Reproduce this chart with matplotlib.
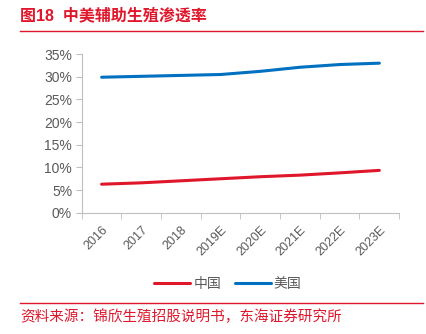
import numpy as np
import matplotlib.pyplot as plt
from matplotlib.ticker import PercentFormatter, FixedLocator, NullFormatter

plt.rcParams['font.family'] = ['Liberation Sans', 'Noto Sans CJK SC', 'DejaVu Sans']

years = ["2016", "2017", "2018", "2019E", "2020E", "2021E", "2022E", "2023E"]
china = [6.3, 6.6, 7.05, 7.5, 7.95, 8.3, 8.8, 9.35]
usa = [29.9, 30.1, 30.3, 30.5, 31.2, 32.1, 32.7, 33.0]

RED = "#E0162B"
BLUE = "#0070C0"
GRAY = "#595959"
SPINE = "#BFBFBF"

fig = plt.figure(figsize=(4.26, 3.34), dpi=100)
ax = fig.add_axes([0.192, 0.363, 0.745, 0.475])

x = np.arange(len(years))
ax.plot(x, china, color=RED, lw=2.2, label="中国", solid_capstyle="round")
ax.plot(x, usa, color=BLUE, lw=2.2, label="美国", solid_capstyle="round")

ax.set_xlim(-0.5, len(years) - 0.5)
ax.set_ylim(0, 35)
ax.set_yticks(np.arange(0, 36, 5))
ax.yaxis.set_major_formatter(PercentFormatter(decimals=0))

ax.set_xticks(x)
ax.set_xticklabels(years, rotation=45, ha="right", rotation_mode="anchor")
ax.xaxis.set_minor_locator(FixedLocator(np.arange(-0.5, len(years), 1)))
ax.xaxis.set_minor_formatter(NullFormatter())
ax.tick_params(axis="x", which="major", length=0, pad=8, labelsize=9, labelcolor=GRAY)
ax.tick_params(axis="x", which="minor", length=4, color=SPINE, direction="out")
ax.tick_params(axis="y", length=4, color=SPINE, labelsize=10, labelcolor=GRAY, pad=3)

for s in ["top", "right"]:
    ax.spines[s].set_visible(False)
for s in ["left", "bottom"]:
    ax.spines[s].set_color(SPINE)

fig.legend(loc="center", bbox_to_anchor=(0.535, 0.15), ncol=2, frameon=False,
           fontsize=10, handlelength=2.6, handletextpad=0.2, columnspacing=1.0,
           labelcolor=GRAY)

# title and source
fig.text(0.047, 0.955, "图18  中美辅助生殖渗透率", color=RED, fontsize=11.5,
         fontweight="bold", va="center")
fig.add_artist(plt.Line2D([0.047, 0.992], [0.907, 0.907], color=RED, lw=1.0))
fig.add_artist(plt.Line2D([0.047, 0.992], [0.092, 0.092], color=RED, lw=1.0))
fig.text(0.047, 0.053, "资料来源：锦欣生殖招股说明书，东海证券研究所", color=RED,
         fontsize=10.5, va="center")

fig.savefig("out.png", dpi=100)
